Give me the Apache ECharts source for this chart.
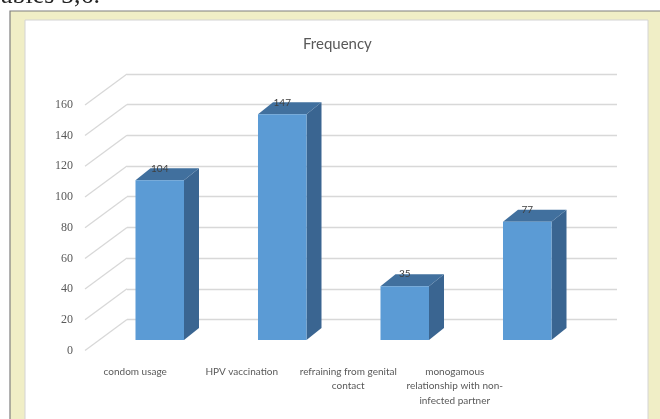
<!DOCTYPE html>
<html>
<head>
<meta charset="utf-8">
<script src="https://cdn.jsdelivr.net/npm/echarts@6/dist/echarts.min.js"></script>
<style>
  html, body { margin: 0; padding: 0; background: #ffffff; }
  #chart { width: 660px; height: 419px; }
</style>
</head>
<body>
<div id="chart"></div>
<script>
// Preventive measures and how many respondents named each one
const categories = [
  'condom usage',
  'HPV vaccination',
  'refraining from genital\ncontact',
  'monogamous\nrelationship with non-\ninfected partner'
];
const frequency = [104, 147, 35, 77];
const axisMin = 0;
const axisMax = 160;
const axisStep = 20;
const tickValues = [0, 20, 40, 60, 80, 100, 120, 140, 160];

// Pseudo-3D geometry: the back wall sits behind the label plane
const WALL_DX = 42, WALL_DY = -31;
// bars stand part-way into the depth; their own depth is smaller
const BAR_OX = 13.5, BAR_OY = -10.5;
const BAR_DX = 15, BAR_DY = -12;

const chart = echarts.init(document.getElementById('chart'), null, { renderer: 'canvas' });

function renderBar(params, api) {
  const i = api.value(0);
  const v = api.value(1);
  const top = api.coord([i, v]);
  const base = api.coord([i, 0]);
  const bw = api.size([1, 0])[0] * 0.396;
  const x0 = top[0] + BAR_OX - bw / 2;
  const x1 = x0 + bw;
  const yt = top[1] + BAR_OY;
  const yb = base[1] + BAR_OY;
  return {
    type: 'group',
    children: [
      {
        type: 'polygon',
        shape: { points: [[x1, yt], [x1 + BAR_DX, yt + BAR_DY], [x1 + BAR_DX, yb + BAR_DY], [x1, yb]] },
        style: { fill: '#3A6591' }
      },
      {
        type: 'polygon',
        shape: { points: [[x0, yt], [x0 + BAR_DX, yt + BAR_DY], [x1 + BAR_DX, yt + BAR_DY], [x1, yt]] },
        style: { fill: '#41709E' }
      },
      {
        type: 'rect',
        shape: { x: x0, y: yt, width: bw, height: yb - yt },
        style: { fill: '#5B9BD5' }
      },
      {
        type: 'text',
        z2: 10,
        style: {
          text: String(v),
          x: x0 + bw / 2,
          y: yt - 12,
          align: 'center',
          verticalAlign: 'middle',
          fill: '#404040',
          font: '10px Lato'
        }
      }
    ]
  };
}

function renderSideLine(params, api) {
  const v = api.value(0);
  const p = api.coord([0, v]);
  const x = params.coordSys.x;
  return {
    type: 'line',
    shape: { x1: x, y1: p[1], x2: x + WALL_DX, y2: p[1] + WALL_DY },
    style: { stroke: '#D8D8D8', lineWidth: 1.3 }
  };
}

chart.setOption({
  animation: false,
  backgroundColor: '#ffffff',
  title: {
    text: 'Frequency',
    left: 298,
    top: 32,
    textStyle: { fontFamily: 'Lato', fontSize: 15, fontWeight: 'normal', color: '#595959' }
  },
  graphic: [
    { type: 'rect', z: -10, shape: { x: 10, y: 11, width: 660, height: 420 },
      style: { fill: '#F0EEC6', stroke: '#7F7F7F', lineWidth: 1.2 } },
    { type: 'rect', z: -9, shape: { x: 25, y: 20, width: 623, height: 410 },
      style: { fill: '#FFFFFF', stroke: '#D4D4D4', lineWidth: 1 } },
    { type: 'text', z: -8, left: -13, top: -17,
      style: { text: 'Tables 5,6.', font: '26px "Liberation Serif"', fill: '#222222' } }
  ],
  grid: [
    // label plane (front edge of the side wall)
    { left: 85, right: 85, top: 104.9, bottom: 68.5 },
    // back wall
    { left: 127, right: 43, top: 73.9, bottom: 99.5 },
    // category labels along the floor
    { left: 82, width: 426, top: 300, bottom: 60 }
  ],
  xAxis: [
    { type: 'category', gridIndex: 0, data: categories, show: false },
    { type: 'category', gridIndex: 1, data: categories, show: false },
    {
      type: 'category', gridIndex: 2, data: categories,
      axisLine: { show: false }, axisTick: { show: false },
      axisLabel: {
        interval: 0, margin: 5, color: '#595959',
        fontFamily: 'Lato', fontSize: 10, lineHeight: 14.7
      }
    }
  ],
  yAxis: [
    {
      type: 'value', gridIndex: 0, min: axisMin, max: axisMax, interval: axisStep,
      axisLine: { show: false }, axisTick: { show: false }, splitLine: { show: false },
      axisLabel: { margin: 12, color: '#595959', fontFamily: 'Liberation Serif', fontSize: 12 }
    },
    {
      type: 'value', gridIndex: 1, min: axisMin, max: axisMax, interval: axisStep,
      axisLine: { show: false }, axisTick: { show: false }, axisLabel: { show: false },
      splitLine: { lineStyle: { color: '#D8D8D8', width: 1.3 } }
    },
    { type: 'value', gridIndex: 2, show: false }
  ],
  series: [
    {
      type: 'custom', name: 'side wall',
      xAxisIndex: 0, yAxisIndex: 0,
      data: tickValues.map(v => [v]),
      encode: { y: 0 },
      renderItem: renderSideLine,
      silent: true, z: 1
    },
    {
      type: 'custom', name: 'Frequency',
      xAxisIndex: 0, yAxisIndex: 0,
      data: frequency.map((v, i) => [i, v]),
      encode: { x: 0, y: 1 },
      renderItem: renderBar,
      z: 5
    }
  ]
});
</script>
</body>
</html>
